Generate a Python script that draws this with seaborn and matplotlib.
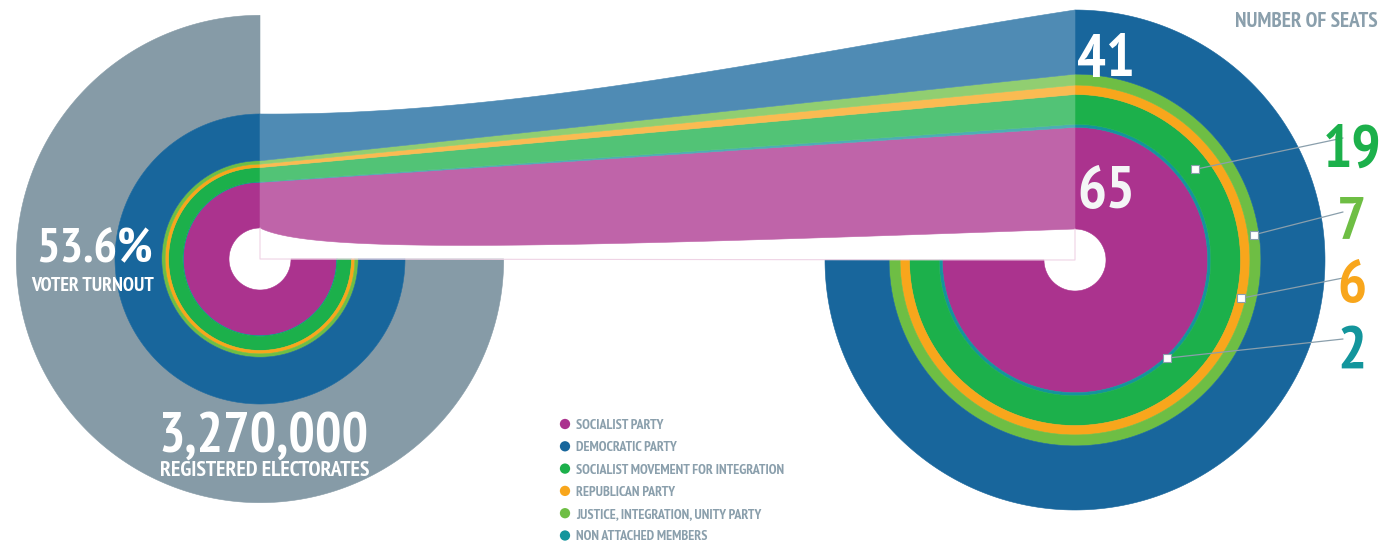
import os
import numpy as np
import pandas as pd
import seaborn as sns
import matplotlib
matplotlib.use('Agg')
import matplotlib.pyplot as plt
from matplotlib import font_manager as fm
from matplotlib.colors import to_rgb


# parties in legend order
parties = ["SOCIALIST PARTY", "DEMOCRATIC PARTY", "SOCIALIST MOVEMENT FOR INTEGRATION",
           "REPUBLICAN PARTY", "JUSTICE, INTEGRATION, UNITY PARTY", "NON ATTACHED MEMBERS"]
colors = ["#AB338E", "#18669C", "#1CB04B", "#F8A61C", "#6EBE44", "#13959C"]
seats = [65, 41, 19, 6, 7, 2]
vote_share = [40, 41, 12.5, 3, 3, 0.5]
# rings from the centre outwards
ring_order = [0, 5, 2, 3, 4, 1]
turnout = 53.6
registered = 3270000

GREY = "#869BA7"
TXT = "#8A9FAC"
HOLE = 31
LEFT_C = (260, 259)
RIGHT_C = (1075, 260)
LEFT_K = 1.14
RIGHT_K = (250 - HOLE) / sum(seats)


def pick_font():
    # the original uses a condensed face, so look for the narrowest bold one installed
    files = sorted(f.fname for f in fm.fontManager.ttflist)
    prefs = [('narrow', 'bold'), ('robotocondensed', 'bold'), ('condensed', 'bold'),
             ('narrow', ''), ('condensed', '')]
    for a, b in prefs:
        for fn in files:
            low = os.path.basename(fn).lower().replace('-', '').replace('_', '').replace(' ', '')
            if any(w in low for w in ('italic', 'oblique', 'semi', 'extra', 'light', 'thin', 'medium')):
                continue
            if a in low and b in low:
                return fm.FontProperties(fname=fn)
    return fm.FontProperties(family=['Roboto', 'Liberation Sans', 'DejaVu Sans'], weight='bold')


def tint(c, a=0.76):
    r, g, b = to_rgb(c)
    return (1 - a * (1 - r), 1 - a * (1 - g), 1 - a * (1 - b))


def ring(ax, c, r0, r1, t0, t1, color):
    th = np.radians(np.linspace(t0, t1, 300))
    xs = np.concatenate([c[0] + r1 * np.cos(th), c[0] + r0 * np.cos(th[::-1])])
    ys = np.concatenate([c[1] - r1 * np.sin(th), c[1] - r0 * np.sin(th[::-1])])
    ax.fill(xs, ys, color=color, ec=color, lw=0.4)


def bezier(p0, p1, p2, p3, n=200):
    t = np.linspace(0, 1, n)[:, None]
    p = [np.array(q, dtype=float) for q in (p0, p1, p2, p3)]
    return (1 - t) ** 3 * p[0] + 3 * (1 - t) ** 2 * t * p[1] + 3 * (1 - t) * t ** 2 * p[2] + t ** 3 * p[3]


# cumulative radii, centre outwards
left_r = HOLE + LEFT_K * np.concatenate([[0], np.cumsum([vote_share[i] for i in ring_order])])
right_r = HOLE + RIGHT_K * np.concatenate([[0], np.cumsum([seats[i] for i in ring_order])])
grey_r = HOLE + (left_r[-1] - HOLE) / (turnout / 100)

sns.set_theme(style="white")
plt.rcParams['font.family'] = ['Liberation Sans', 'DejaVu Sans']
FONT = pick_font()

fig = plt.figure(figsize=(13.88, 5.45), dpi=100)
ax = fig.add_axes([0, 0, 1, 1])
ax.set_xlim(0, 1388)
ax.set_ylim(545, 0)
ax.axis('off')
renderer = fig.canvas.get_renderer()


def fit_size(s, width, cap):
    # the reference face is narrower than anything installed: meet halfway
    # between matching its width and matching its cap height
    fp = FONT.copy()
    fp.set_size(100)
    t = ax.text(0, 0, s, fontproperties=fp)
    w = t.get_window_extent(renderer).width
    t.remove()
    by_w = 100 * width / w
    by_h = cap / 0.71 * 0.72
    return min(by_h, np.sqrt(by_w * by_h))


def label(x, y, s, size, color, ha="center", va="baseline", z=4):
    fp = FONT.copy()
    fp.set_size(size)
    ax.text(x, y, s, fontproperties=fp, color=color, ha=ha, va=va, zorder=z)


# left: registered electorate and votes
ring(ax, LEFT_C, left_r[-1], grey_r, 90, 360, GREY)
for k, i in enumerate(ring_order):
    ring(ax, LEFT_C, left_r[k], left_r[k + 1], 90, 360, colors[i])

# right: seats
for k, i in enumerate(ring_order):
    ring(ax, RIGHT_C, right_r[k], right_r[k + 1], -180, 90, colors[i])

# flow band from votes to seats
xl, xr = LEFT_C[0], RIGHT_C[0]
curves = []
for j in range(len(left_r)):
    yl = LEFT_C[1] - left_r[j]
    yr = RIGHT_C[1] - right_r[j]
    if j == 0:
        pts = bezier((xl, yl), (xl + 50, yl + 25), (xl + 260, yr + 20), (xr, yr))
    elif j == len(left_r) - 1:
        pts = bezier((xl, yl), (xl + 270, yl + 2), (xr - 250, yr + 38), (xr, yr))
    else:
        pts = bezier((xl, yl), (xl + (xr - xl) / 3, yl + (yr - yl) / 3),
                     (xl + 2 * (xr - xl) / 3, yl + 2 * (yr - yl) / 3), (xr, yr))
    curves.append(pts)
for k, i in enumerate(ring_order):
    lo, hi = curves[k], curves[k + 1]
    poly = np.vstack([hi, lo[::-1]])
    ax.fill(poly[:, 0], poly[:, 1], color=tint(colors[i]), ec=tint(colors[i]), lw=0.4)
ax.plot([xl, xl, xr, xr], [LEFT_C[1] - HOLE, LEFT_C[1], RIGHT_C[1], RIGHT_C[1] - HOLE],
        color="#EFD3E5", lw=0.8)

# left labels
pct = f"{turnout}%"
label(95, 262, pct, fit_size(pct, 108, 38), "white")
label(93, 291, "VOTER TURNOUT", fit_size("VOTER TURNOUT", 117, 15), "white")
reg = f"{registered:,}"
label(264, 452, reg, fit_size(reg, 188, 44), "white")
label(265, 476, "REGISTERED ELECTORATES", fit_size("REGISTERED ELECTORATES", 190, 17), "white")

# seat labels
label(1378, 27, "NUMBER OF SEATS", fit_size("NUMBER OF SEATS", 133, 16), TXT, ha="right")
big = fit_size("65", 50, 50)
label(1077, 76, str(seats[1]), big, "white", ha="left")
label(1077, 208, str(seats[0]), big, "#F4F6F6", ha="left")

callouts = pd.DataFrame({
    "party": [2, 4, 3, 5],
    "angle": [37, 8, -13, -47],
    "label_y": [167, 238, 302, 368],
    "line_y": [138, 212, 278, 339],
})
side = fit_size("19", 51, 50)
rows = []
for _, c in callouts.iterrows():
    k = ring_order.index(c.party)
    r = (right_r[k] + right_r[k + 1]) / 2
    th = np.radians(c.angle)
    mx, my = RIGHT_C[0] + r * np.cos(th), RIGHT_C[1] - r * np.sin(th)
    ax.plot([mx, 1343], [my, c.line_y], color=TXT, lw=0.9, zorder=3)
    label(1352, c.label_y, str(seats[c.party]), side, colors[c.party])
    rows.append((mx, my))
marks = pd.DataFrame(rows, columns=["x", "y"])
sns.scatterplot(data=marks, x="x", y="y", marker="s", s=38, color="white",
                edgecolor=TXT, linewidth=0.8, zorder=5, ax=ax, legend=False)

# legend
leg = pd.DataFrame({"party": parties, "x": 565, "y": 424 + 22.3 * np.arange(len(parties))})
sns.scatterplot(data=leg, x="x", y="y", hue="party", palette=colors, s=55, linewidth=0,
                ax=ax, legend=False, zorder=5)
small = fit_size(parties[2], 199, 10.5)
for _, row in leg.iterrows():
    label(row.x + 11, row.y, row.party, small, TXT, ha="left", va="center_baseline")

ax.set_xlim(0, 1388)
ax.set_ylim(545, 0)
ax.set_xlabel("")
ax.set_ylabel("")
fig.savefig("out.png", dpi=100, facecolor="white")
